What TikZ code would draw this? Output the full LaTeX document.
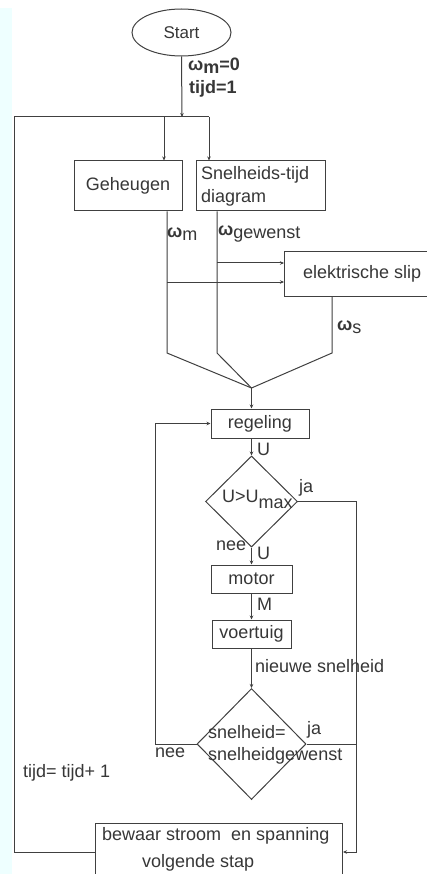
\documentclass[tikz,border=0pt]{standalone}
\usepackage{fontspec}
\setmainfont{Liberation Sans}
\usetikzlibrary{shapes.geometric,arrows.meta}
\definecolor{ink}{RGB}{64,64,64}
\definecolor{txt}{RGB}{55,55,55}
\definecolor{strip}{RGB}{238,255,255}
\tikzset{
  flow/.style={draw=ink, line width=1pt},
  arr/.style={flow, -{Stealth[length=4pt,width=3.5pt]}},
  box/.style={draw=ink, line width=1pt, rectangle, inner sep=0pt, text=txt,
    font=\fontsize{18}{23}\selectfont},
  dia/.style={draw=ink, line width=1pt, diamond, inner sep=0pt},
  lbl/.style={anchor=west, inner sep=0pt, text=txt, font=\fontsize{18}{22}\selectfont},
}
\begin{document}
\begin{tikzpicture}[x=1pt,y=-1pt]
\clip (0,0) rectangle (427,874);
\fill[white] (0,0) rectangle (427,874);
\fill[strip] (0,8) rectangle (12,874);

% process blocks
\node[ellipse, draw=ink, line width=1pt, minimum width=99pt, minimum height=47pt,
  inner sep=0pt, text=txt, font=\fontsize{17}{20}\selectfont] (start) at (181.5,32.5) {Start};
\node[box, minimum width=108pt, minimum height=50pt] (geh) at (128,186) {Geheugen};
\node[box, minimum height=50pt, text width=119pt, inner xsep=5pt, align=left]
  (snd) at (260.5,186) {Snelheids-tijd\\diagram};
\node[box, anchor=north west, minimum width=146pt, minimum height=45pt] (slip) at (284,251) {};
\node[lbl] (slipt) at (303,274) {elektrische slip};
\node[box, minimum width=98pt, minimum height=29pt] (reg) at (260,423.5) {regeling};
\node[dia, minimum width=92pt, minimum height=91pt] (d1) at (251.5,501.5) {};
\node[lbl] (d1t) at (222,499) {U>U\raisebox{-6pt}{max}};
\node[box, minimum width=81pt, minimum height=28pt] (motor) at (251.5,579) {motor};
\node[box, minimum width=79pt, minimum height=28pt] (voer) at (251.5,634) {voertuig};
\node[dia, minimum width=109pt, minimum height=111pt] (d2) at (251.5,744) {};
\node[lbl, align=left] (d2t) at (208,745) {snelheid=\\snelheidgewenst};
\node[box, anchor=north west, minimum width=247pt, minimum height=80pt] (bot) at (95,823) {};
\node[lbl] (bott1) at (102,836) {bewaar stroom\ \ en spanning};
\node[lbl] (bott2) at (142,863) {volgende stap};

% junctions and bends
\coordinate (top) at (182,117);
\coordinate (tl) at (14,117);
\coordinate (tr) at (209,117);
\coordinate (ga) at (164,117);
\coordinate (g1) at (167,353);
\coordinate (s1) at (217,353);
\coordinate (e1) at (332,353);
\coordinate (mg) at (251.5,388);
\coordinate (b1) at (217,263);
\coordinate (b2) at (167,282);
\coordinate (rb) at (356,852);
\coordinate (lb) at (155,423.5);
\coordinate (bl) at (14,852);

% connectors
\draw[arr] (start.south) -- (top);
\draw[flow] (tl) -- (tr);
\draw[arr] (ga) -- (ga |- geh.north);
\draw[arr] (tr) -- (tr |- snd.north);
\draw[flow] (g1 |- geh.south) -- (g1) -- (mg);
\draw[flow] (s1 |- snd.south) -- (s1) -- (mg);
\draw[flow] (e1 |- slip.south) -- (e1) -- (mg);
\draw[arr] (b1) -- (b1 -| slip.west);
\draw[arr] (b2) -- (b2 -| slip.west);
\draw[arr] (mg) -- (mg |- reg.north);
\draw[arr] (d1.north |- reg.south) -- (d1.north);
\draw[arr] (d1.east) -| (rb) -- (rb -| bot.east);
\draw[arr] (d1.south) -- (motor.north);
\draw[arr] (motor.south) -- (voer.north);
\draw[arr] (voer.south) -- (d2.north);
\draw[flow] (d2.east) -- (d2.east -| rb);
\draw[arr] (d2.west) -| (lb) -- (reg.west);
\draw[flow] (bot.west |- rb) -- (bl) -- (tl);

% labels
\node[lbl] (l0a) at (188,66) {\bfseries ω\raisebox{-3pt}{m}=0};
\node[lbl] (l0b) at (189,89) {\bfseries tijd=1};
\node[lbl] (lwm) at (167,234) {{\bfseries ω}\raisebox{-3pt}{m}};
\node[lbl] (lwg) at (218,234) {{\bfseries ω}\raisebox{-3pt}{gewenst}};
\node[lbl] (lws) at (337,327) {{\bfseries ω}\raisebox{-3pt}{s}};
\node[lbl] (lu1) at (257,449) {U};
\node[lbl] (lja1) at (299,488) {ja};
\node[lbl] (lnee1) at (216,546) {nee};
\node[lbl] (lu2) at (257,553) {U};
\node[lbl] (lm) at (257,604) {M};
\node[lbl] (lns) at (255,666) {nieuwe snelheid};
\node[lbl] (lja2) at (307,730) {ja};
\node[lbl] (lnee2) at (155,753) {nee};
\node[lbl] (ltijd) at (23,773) {tijd= tijd+ 1};
\end{tikzpicture}
\end{document}
